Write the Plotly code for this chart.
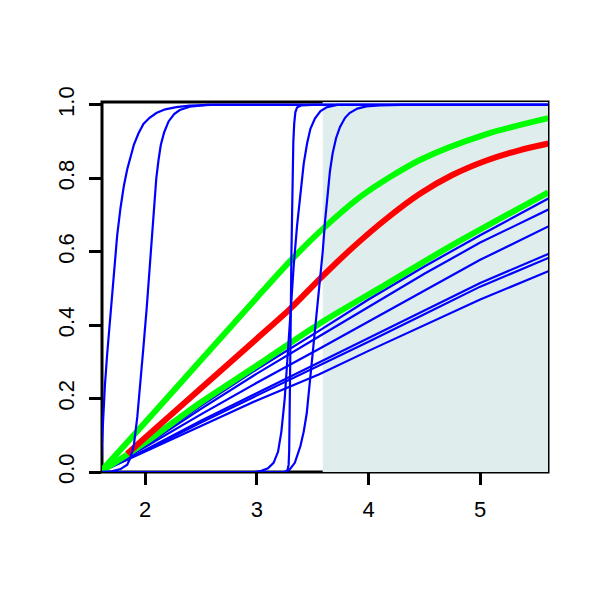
import plotly.graph_objects as go

# ---- data ----
lin_x = [1.6, 2.0, 2.5, 3.0, 3.56, 4.0, 4.5, 5.0, 5.61]
b1_y = [0, 0.075, 0.18, 0.28, 0.385, 0.47, 0.56, 0.645, 0.745]
b2_y = [0, 0.072, 0.172, 0.268, 0.37, 0.45, 0.54, 0.625, 0.715]
b3_y = [0, 0.068, 0.157, 0.243, 0.336, 0.41, 0.495, 0.578, 0.669]
b4_y = [0, 0.06, 0.14, 0.215, 0.30, 0.365, 0.44, 0.515, 0.594]
b5_y = [0, 0.058, 0.135, 0.208, 0.29, 0.355, 0.43, 0.505, 0.583]
b6_y = [0, 0.055, 0.125, 0.195, 0.266, 0.33, 0.40, 0.47, 0.547]

s1_x = [1.6, 1.612, 1.625, 1.64, 1.66, 1.69, 1.72, 1.75, 1.78, 1.81, 1.84, 1.87, 1.9,
        1.94, 1.985, 2.04, 2.1, 2.18, 2.28, 2.4, 2.6, 5.61]
s1_y = [0.0, 0.08, 0.16, 0.235, 0.32, 0.43, 0.545, 0.645, 0.72, 0.78, 0.825, 0.862, 0.892,
        0.922, 0.948, 0.965, 0.978, 0.988, 0.994, 0.998, 1.0, 1.0]
s2_x = [1.6, 1.7, 1.78, 1.84, 1.87, 1.9, 1.93, 1.955, 1.985, 2.015, 2.04, 2.06, 2.08, 2.1,
        2.12, 2.14, 2.17, 2.21, 2.26, 2.31, 2.4, 2.55, 5.61]
s2_y = [0, 0.002, 0.008, 0.02, 0.04, 0.075, 0.15, 0.23, 0.34, 0.45, 0.56, 0.65, 0.74, 0.8,
        0.85, 0.89, 0.925, 0.955, 0.975, 0.986, 0.995, 1.0, 1.0]
s3_x = [1.6, 3.25, 3.275, 3.285, 3.29, 3.295, 3.30, 3.305, 3.31, 3.315, 3.32, 3.327, 3.335,
        3.345, 3.36, 3.4, 3.5, 5.61]
s3_y = [0, 0, 0.005, 0.02, 0.06, 0.15, 0.3, 0.45, 0.6, 0.72, 0.82, 0.9, 0.95,
        0.98, 0.993, 0.999, 1.0, 1.0]
s4_x = [1.6, 2.98, 3.04, 3.1, 3.15, 3.19, 3.22, 3.25, 3.27, 3.3, 3.33, 3.36, 3.39, 3.42,
        3.45, 3.48, 3.52, 3.57, 3.63, 3.72, 5.61]
s4_y = [0, 0, 0.003, 0.01, 0.025, 0.055, 0.11, 0.2, 0.29, 0.43, 0.56, 0.67, 0.76, 0.84,
        0.895, 0.935, 0.963, 0.983, 0.994, 1.0, 1.0]
s5_x = [1.6, 3.25, 3.29, 3.34, 3.39, 3.42, 3.447, 3.477, 3.507, 3.537, 3.567, 3.59, 3.61,
        3.63, 3.655, 3.68, 3.71, 3.745, 3.79, 3.83, 3.9, 3.98, 4.1, 4.3, 5.61]
s5_y = [0, 0, 0.005, 0.025, 0.07, 0.11, 0.16, 0.25, 0.34, 0.43, 0.52, 0.6, 0.68,
        0.75, 0.82, 0.87, 0.91, 0.94, 0.965, 0.978, 0.99, 0.996, 0.999, 1.0, 1.0]

gu_x = [1.6, 2.0, 2.5, 3.0, 3.3, 3.6, 3.95, 4.46, 5.05, 5.61]
gu_y = [0, 0.135, 0.305, 0.475, 0.575, 0.665, 0.755, 0.85, 0.92, 0.964]
gl_x = [1.6, 2.0, 2.5, 3.0, 3.56, 4.16, 4.75, 5.61]
gl_y = [0, 0.08, 0.19, 0.29, 0.404, 0.512, 0.618, 0.762]
red_x = [1.84, 2.0, 2.5, 3.0, 3.3, 3.56, 3.86, 4.16, 4.46, 4.75, 5.05, 5.35, 5.61]
red_y = [0.05, 0.093, 0.228, 0.363, 0.445, 0.525, 0.612, 0.69, 0.758, 0.809, 0.848, 0.8765, 0.895]

shade_x = [3.59, 5.7]
shade_y = [-0.1, 1.1]

x_range = [1.614, 5.607]
y_range = [0, 1.008]
x_ticks = [2, 3, 4, 5]
y_ticks = [0, 0.2, 0.4, 0.6, 0.8, 1.0]
y_ticklabels = ["0.0", "0.2", "0.4", "0.6", "0.8", "1.0"]

fig = go.Figure()

# shaded region
fig.add_trace(go.Scatter(
    x=[shade_x[0], shade_x[1], shade_x[1], shade_x[0], shade_x[0]],
    y=[shade_y[0], shade_y[0], shade_y[1], shade_y[1], shade_y[0]],
    fill="toself", fillcolor="#E0EDED", mode="none", hoverinfo="skip"))

for yy in [b1_y, b2_y, b3_y, b4_y, b5_y, b6_y]:
    fig.add_trace(go.Scatter(x=lin_x, y=yy, mode="lines",
                             line=dict(color="#0000FF", width=2.2)))

for xx, yy in [(gl_x, gl_y), (gu_x, gu_y)]:
    fig.add_trace(go.Scatter(x=xx, y=yy, mode="lines",
                             line=dict(color="#00FF00", width=6, shape="spline", smoothing=0.8)))
fig.add_trace(go.Scatter(x=red_x, y=red_y, mode="lines",
                         line=dict(color="#FF0000", width=6, shape="spline", smoothing=0.8)))

for xx, yy in [(s1_x, s1_y), (s2_x, s2_y), (s3_x, s3_y), (s4_x, s4_y), (s5_x, s5_y)]:
    fig.add_trace(go.Scatter(x=xx, y=yy, mode="lines",
                             line=dict(color="#0000FF", width=2.2)))

fig.add_shape(type="rect", xref="paper", yref="paper", x0=0, x1=1, y0=0, y1=1,
              line=dict(color="black", width=3), layer="below")

font = dict(family="Liberation Sans, Arial, sans-serif", size=22, color="black")
fig.update_layout(
    width=600, height=600, showlegend=False,
    paper_bgcolor="white", plot_bgcolor="white",
    margin=dict(l=94, r=60, t=94, b=136),
    font=font,
    xaxis=dict(range=x_range, tickvals=x_ticks, ticks="outside", ticklen=12,
               tickwidth=3, tickcolor="black", showgrid=False, zeroline=False,
               showline=False, tickfont=font, ticklabelstandoff=6),
    yaxis=dict(range=y_range, tickvals=y_ticks, ticktext=y_ticklabels,
               ticks="outside", ticklen=12, tickwidth=3, tickcolor="black",
               showgrid=False, zeroline=False, showline=False, tickangle=-90,
               tickfont=font, ticklabelstandoff=6),
)

fig.write_html("out.html")
